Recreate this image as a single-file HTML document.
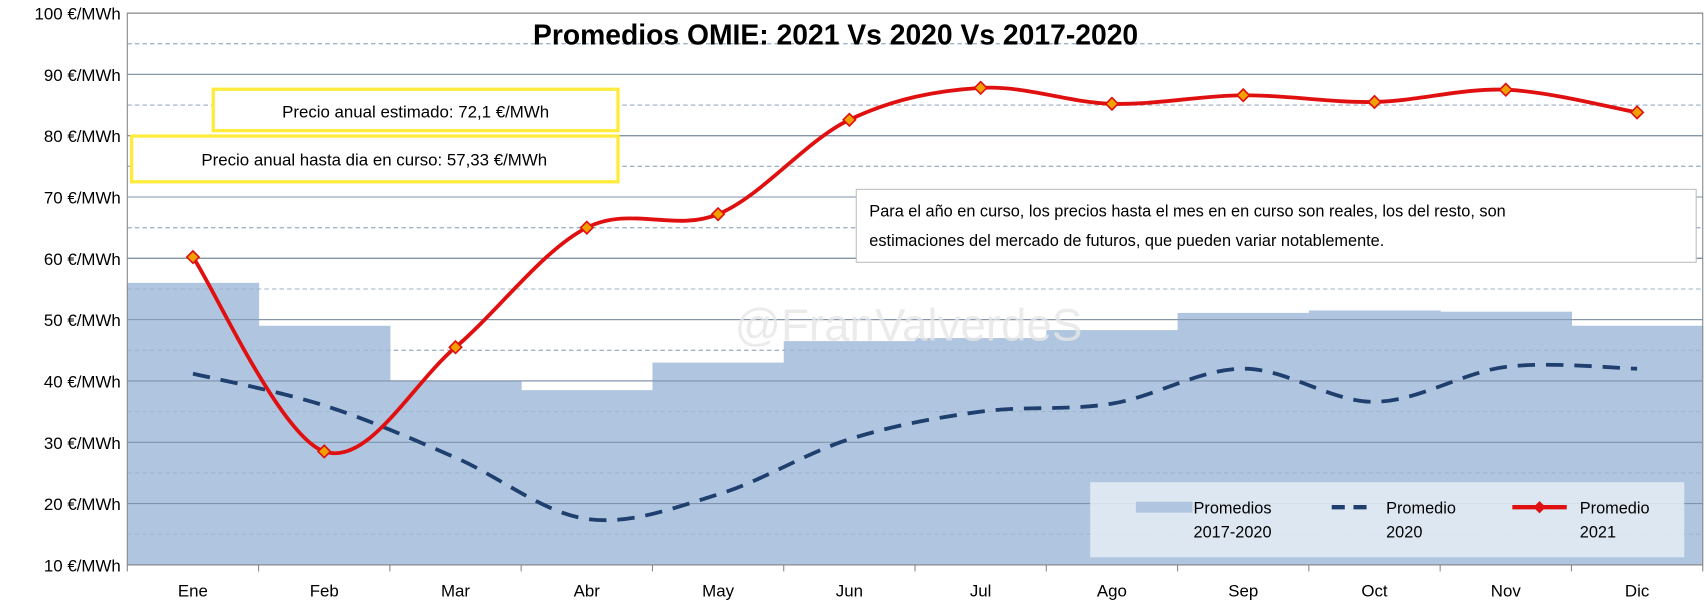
<!DOCTYPE html>
<html><head><meta charset="utf-8"><style>
body{margin:0;background:#fff;}
svg{display:block;font-family:"Liberation Sans",sans-serif;}
</style></head><body>
<svg width="1706" height="603" viewBox="0 0 1568 554" preserveAspectRatio="none">
<rect x="0" y="0" width="1568" height="554" fill="#fff"/>
<g id="grid"></g>
<g id="bars"></g>
<g id="gridover"></g>
<text x="835" y="313" text-anchor="middle" font-size="42" fill="#e6e6e6" fill-opacity="0.8">@FranValverdeS</text>
<g id="lines"></g>
<g id="axes"></g>
<text x="768" y="41" text-anchor="middle" font-size="26" font-weight="bold" fill="#000">Promedios OMIE: 2021 Vs 2020 Vs 2017-2020</text>
<g><rect x="196" y="82" width="372" height="38" fill="#fff" stroke="#ffeb3b" stroke-width="3"/><text x="382" y="108" text-anchor="middle" font-size="15.5">Precio anual estimado: 72,1  €/MWh</text></g>
<g><rect x="121" y="125" width="447" height="42" fill="#fff" stroke="#ffeb3b" stroke-width="3"/><text x="344" y="152" text-anchor="middle" font-size="15.5">Precio anual hasta dia en curso: 57,33  €/MWh</text></g>
<g><rect x="787" y="174" width="772" height="67" fill="#fff" stroke="#bfbfbf"/><text x="799" y="199" font-size="15">Para el año en curso, los precios hasta el mes en en curso son reales, los del resto, son</text><text x="799" y="226" font-size="15">estimaciones del mercado de futuros, que pueden variar notablemente.</text></g>
<g>
<rect x="1002" y="443" width="546" height="69" fill="#e4ecf5" fill-opacity="0.85"/>
<rect x="1044" y="461" width="52" height="10" fill="#b0c6e0"/>
<text x="1097" y="472" font-size="15">Promedios</text><text x="1097" y="494" font-size="15">2017-2020</text>
<line x1="1224" y1="466" x2="1264" y2="466" stroke="#1f3f6e" stroke-width="4" stroke-dasharray="12,8"/>
<text x="1274" y="472" font-size="15">Promedio</text><text x="1274" y="494" font-size="15">2020</text>
<line x1="1390" y1="466" x2="1440" y2="466" stroke="#e01010" stroke-width="4"/>
<rect x="1411" y="462" width="8" height="8" fill="#e01010" transform="rotate(45 1415 466)"/>
<text x="1452" y="472" font-size="15">Promedio</text><text x="1452" y="494" font-size="15">2021</text>
</g>
</svg>
<script>
const months=["Ene","Feb","Mar","Abr","May","Jun","Jul","Ago","Sep","Oct","Nov","Dic"];
const avg1720=[56,49,40,38.5,43,46.5,47,48.3,51.1,51.5,51.3,49];
const avg2020=[41.2,36,27.5,17.5,21.5,30.5,35,36.3,42,36.6,42.3,42];
const avg2021=[60.2,28.5,45.5,65,67.2,82.6,87.8,85.2,86.6,85.5,87.5,83.8];
const yTicks=[10,20,30,40,50,60,70,80,90,100];
const NS="http://www.w3.org/2000/svg";
const X0=117,X1=1565,Y0=519,Y1=12,VMIN=10,VMAX=100;
const bw=(X1-X0)/months.length;
const xC=i=>X0+bw*(i+0.5);
const yS=v=>Y0-(v-VMIN)/(VMAX-VMIN)*(Y0-Y1);
function mk(t,a,p){const e=document.createElementNS(NS,t);for(const k in a)e.setAttribute(k,a[k]);p.appendChild(e);return e;}
const grid=document.getElementById('grid'),bars=document.getElementById('bars'),go=document.getElementById('gridover'),lines=document.getElementById('lines'),axes=document.getElementById('axes');
for(let v=15;v<100;v+=10){const l=mk('line',{x1:X0,x2:X1,y1:yS(v),y2:yS(v),stroke:'#aaa','stroke-dasharray':'4,3'},grid);

}
yTicks.forEach(v=>{const l=mk('line',{x1:X0,x2:X1,y1:yS(v),y2:yS(v),stroke:'#888'},grid);


const t=mk('text',{x:X0-6,y:yS(v)+6,'text-anchor':'end','font-size':15.5},axes);t.textContent=v+' €/MWh';

});
avg1720.forEach((v,i)=>{const r=mk('rect',{x:X0+bw*i,y:yS(v),width:bw+0.5,height:Y0-yS(v),fill:'#b0c6e0'},bars);

});
for(let v=15;v<100;v+=10){const l=mk('line',{x1:X0,x2:X1,y1:yS(v),y2:yS(v),stroke:'#9fb3cc','stroke-dasharray':'4,3'},go);

}
yTicks.forEach(v=>{const l=mk('line',{x1:X0,x2:X1,y1:yS(v),y2:yS(v),stroke:'#7f93ad'},go);

});
mk('rect',{x:X0,y:Y1,width:X1-X0,height:Y0-Y1,fill:'none',stroke:'#888'},axes);
for(let i=0;i<=months.length;i++){mk('line',{x1:X0+bw*i,x2:X0+bw*i,y1:Y0,y2:Y0+6,stroke:'#888'},axes);}
months.forEach((m,i)=>{const t=mk('text',{x:xC(i),y:548,'text-anchor':'middle','font-size':15.5},axes);t.textContent=m;

});
function smooth(vals){const p=vals.map((v,i)=>[xC(i),yS(v)]);let d='M'+p[0][0]+','+p[0][1];
for(let i=0;i<p.length-1;i++){const p0=p[i-1]||p[i],p1=p[i],p2=p[i+1],p3=p[i+2]||p2;const k=1/6;
d+=` C${p1[0]+(p2[0]-p0[0])*k},${p1[1]+(p2[1]-p0[1])*k} ${p2[0]-(p3[0]-p1[0])*k},${p2[1]-(p3[1]-p1[1])*k} ${p2[0]},${p2[1]}`;}return d;}
const l20=mk('path',{d:smooth(avg2020),fill:'none',stroke:'#1f3f6e','stroke-width':3.5,'stroke-dasharray':'16,10'},lines);


const l21=mk('path',{d:smooth(avg2021),fill:'none',stroke:'#e01010','stroke-width':3.5},lines);


avg2021.forEach((v,i)=>{const r=mk('rect',{x:xC(i)-4,y:yS(v)-4,width:8,height:8,fill:'#f0a000',stroke:'#e01010','stroke-width':1.5,transform:`rotate(45 ${xC(i)} ${yS(v)})`},lines);

});
</script>
</body></html>
